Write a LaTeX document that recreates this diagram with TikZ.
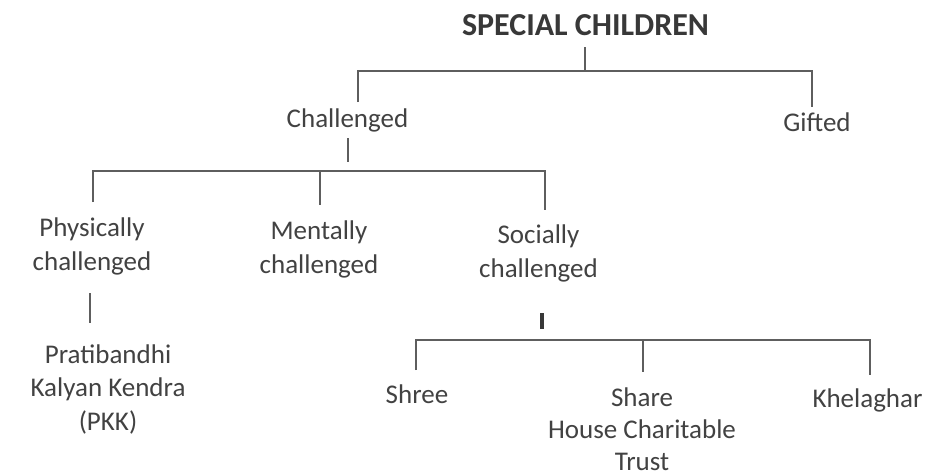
\documentclass[tikz,border=0pt]{standalone}
\usepackage{fontspec}
\setmainfont{Carlito}
\definecolor{txt}{HTML}{424242}
\definecolor{ttl}{HTML}{383838}
\definecolor{lin}{HTML}{5E5E5E}
\tikzset{
  lbl/.style={inner sep=0pt, anchor=base, align=center, text=txt,
    font=\fontsize{27}{33.5}\selectfont},
  ttlbl/.style={inner sep=0pt, anchor=base, text=ttl,
    font=\fontsize{32}{36}\selectfont\bfseries},
  ln/.style={draw=lin, line width=2pt},
  thick ln/.style={draw=ttl, line width=3.2pt}
}
\begin{document}
\begin{tikzpicture}[x=1pt,y=-1pt]
\useasboundingbox[fill=white] (0,0) rectangle (931,475);
% nodes (multi-line nodes are placed by the baseline of their last line)
\node[ttlbl] (title) at (585.5,35) {SPECIAL CHILDREN};
\node[lbl] (chal) at (347.5,127) {Challenged};
\node[lbl] (gift) at (817,131) {Gifted};
\node[lbl] (phys) at (92,270) {Physically\\challenged};
\node[lbl] (ment) at (319,273) {Mentally\\challenged};
\node[lbl] (soc) at (538.5,277) {Socially\\challenged};
\node[lbl] (pkk) at (108,430) {Pratibandhi\\Kalyan Kendra\\(PKK)};
\node[lbl] (shree) at (417,403) {Shree};
\node[lbl, font=\fontsize{27}{32}\selectfont] (share) at (642,470) {Share\\House Charitable\\Trust};
\node[lbl] (khel) at (867.5,407) {Khelaghar};
% coordinates
\coordinate (t0) at (585,47);
\coordinate (t1) at (585,71);
\coordinate (b1l) at (358,71);
\coordinate (b1r) at (812,71);
\coordinate (c1) at (358,102);
\coordinate (g1) at (812,107);
\coordinate (c2) at (348,138);
\coordinate (c3) at (348,162);
\coordinate (b2l) at (93,170.5);
\coordinate (b2m) at (320,170.5);
\coordinate (b2r) at (545,170.5);
\coordinate (p1) at (93,202);
\coordinate (m1) at (320,205);
\coordinate (s1) at (545,210);
\coordinate (p2) at (90,293);
\coordinate (p3) at (90,323);
\coordinate (s2) at (542,313);
\coordinate (s3) at (542,329);
\coordinate (b3l) at (416,340);
\coordinate (b3m) at (643,340);
\coordinate (b3r) at (870,340);
\coordinate (h1) at (416,370);
\coordinate (h2) at (643,372);
\coordinate (h3) at (870,375);
% connectors
\draw[ln] (t0) -- (t1);
\draw[ln] (c1) -- (b1l) -- (b1r) -- (g1);
\draw[ln] (c2) -- (c3);
\draw[ln] (p1) -- (b2l) -- (b2r) -- (s1);
\draw[ln] (b2m) -- (m1);
\draw[ln] (p2) -- (p3);
\draw[thick ln] (s2) -- (s3);
\draw[ln] (h1) -- (b3l) -- (b3r) -- (h3);
\draw[ln] (b3m) -- (h2);
\end{tikzpicture}
\end{document}
